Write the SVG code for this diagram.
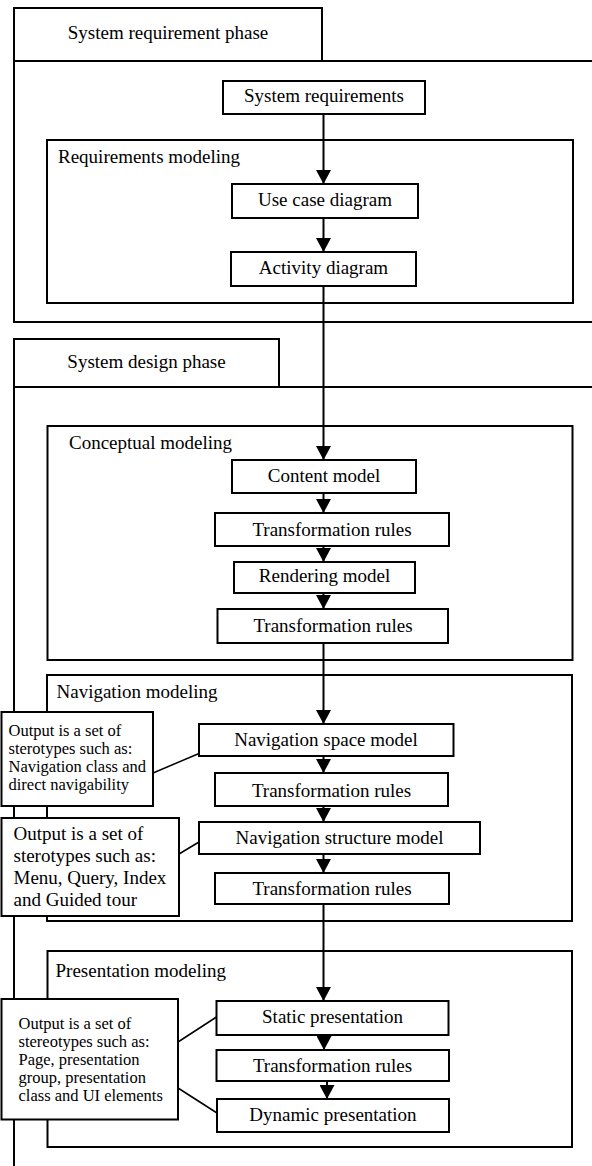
<svg xmlns="http://www.w3.org/2000/svg" width="592" height="1166" viewBox="0 0 592 1166">
  <defs>
    <style>
      .box { fill: #ffffff; stroke: #000000; stroke-width: 2; }
      .frame { fill: none; stroke: #000000; stroke-width: 2; }
      .flow { fill: none; stroke: #000000; stroke-width: 2; }
      .link { fill: none; stroke: #000000; stroke-width: 1.5; }
      text { font-family: "Liberation Serif", "Times New Roman", serif; fill: #000000; }
      .t19 { font-size: 19px; }
      .t16 { font-size: 16.5px; }
      .mid { text-anchor: middle; }
    </style>
    <marker id="arrow" markerUnits="userSpaceOnUse" markerWidth="14" markerHeight="15" viewBox="0 0 14 15" refX="14" refY="7.5" orient="auto">
      <path d="M0,0 L14,7.5 L0,15 z" fill="#000000"/>
    </marker>
  </defs>

  <rect width="592" height="1166" fill="#ffffff"/>

  <!-- Phase 1: system requirement phase -->
  <g id="phase-requirement">
    <rect class="box" x="14" y="8" width="308" height="53"/>
    <text class="t19 mid" x="168" y="39">System requirement phase</text>
    <rect class="frame" x="14" y="61" width="600" height="261"/>
  </g>

  <!-- Phase 2: system design phase (frame runs off the right and bottom) -->
  <g id="phase-design">
    <rect class="box" x="14" y="339" width="265" height="48"/>
    <text class="t19 mid" x="146.5" y="368">System design phase</text>
    <path class="frame" d="M600,387 H14 V1170"/>
  </g>

  <g id="requirements-modeling">
    <rect class="box" x="47" y="140" width="526" height="163"/>
    <text class="t19" x="58" y="163">Requirements modeling</text>
  </g>

  <g id="conceptual-modeling">
    <rect class="box" x="47.5" y="426" width="525" height="234"/>
    <text class="t19" x="69" y="449">Conceptual modeling</text>
  </g>

  <g id="navigation-modeling">
    <rect class="box" x="47" y="675" width="525" height="246"/>
    <text class="t19" x="56.5" y="698">Navigation modeling</text>
  </g>

  <g id="presentation-modeling">
    <rect class="box" x="47.5" y="951" width="524.5" height="196"/>
    <text class="t19" x="55.5" y="977">Presentation modeling</text>
  </g>

  <!-- Flow boxes -->
  <g id="system-requirements">
    <rect class="box" x="223" y="81" width="202" height="33"/>
    <text class="t19 mid" x="324" y="102">System requirements</text>
  </g>
  <g id="use-case-diagram">
    <rect class="box" x="232" y="184" width="186" height="34"/>
    <text class="t19 mid" x="325" y="206">Use case diagram</text>
  </g>
  <g id="activity-diagram">
    <rect class="box" x="231" y="252" width="185" height="34"/>
    <text class="t19 mid" x="323.5" y="273.5">Activity diagram</text>
  </g>

  <g id="content-model">
    <rect class="box" x="232" y="460" width="184" height="33"/>
    <text class="t19 mid" x="324" y="482">Content model</text>
  </g>
  <g id="transformation-rules-1">
    <rect class="box" x="215" y="513" width="234" height="33"/>
    <text class="t19 mid" x="332" y="536">Transformation rules</text>
  </g>
  <g id="rendering-model">
    <rect class="box" x="234" y="562" width="181" height="31"/>
    <text class="t19 mid" x="324.5" y="582">Rendering model</text>
  </g>
  <g id="transformation-rules-2">
    <rect class="box" x="217.5" y="609" width="230.5" height="34"/>
    <text class="t19 mid" x="333" y="632">Transformation rules</text>
  </g>

  <g id="navigation-space-model">
    <rect class="box" x="199" y="724" width="254.5" height="32"/>
    <text class="t19 mid" x="326" y="746">Navigation space model</text>
  </g>
  <g id="transformation-rules-3">
    <rect class="box" x="215" y="773" width="233" height="33"/>
    <text class="t19 mid" x="331.5" y="796.5">Transformation rules</text>
  </g>
  <g id="navigation-structure-model">
    <rect class="box" x="199" y="822" width="281" height="32"/>
    <text class="t19 mid" x="339.5" y="844">Navigation structure model</text>
  </g>
  <g id="transformation-rules-4">
    <rect class="box" x="215" y="873" width="234" height="31"/>
    <text class="t19 mid" x="332" y="895">Transformation rules</text>
  </g>

  <g id="static-presentation">
    <rect class="box" x="216.5" y="1001" width="232" height="34"/>
    <text class="t19 mid" x="332.5" y="1023">Static presentation</text>
  </g>
  <g id="transformation-rules-5">
    <rect class="box" x="216.5" y="1050" width="232.5" height="31"/>
    <text class="t19 mid" x="332.5" y="1072">Transformation rules</text>
  </g>
  <g id="dynamic-presentation">
    <rect class="box" x="217" y="1099" width="232" height="33"/>
    <text class="t19 mid" x="333" y="1121">Dynamic presentation</text>
  </g>

  <!-- Connectors: main flow and note links -->
  <g id="connectors">
    <path class="flow" d="M323.5,114 V184" marker-end="url(#arrow)"/>
    <path class="flow" d="M323.5,218 V252" marker-end="url(#arrow)"/>
    <path class="flow" d="M323.5,286 V460" marker-end="url(#arrow)"/>
    <path class="flow" d="M323.5,493 V513" marker-end="url(#arrow)"/>
    <path class="flow" d="M323.5,546 V562" marker-end="url(#arrow)"/>
    <path class="flow" d="M323.5,593 V609" marker-end="url(#arrow)"/>
    <path class="flow" d="M323.5,643 V724" marker-end="url(#arrow)"/>
    <path class="flow" d="M323.5,756 V773" marker-end="url(#arrow)"/>
    <path class="flow" d="M323.5,806 V822" marker-end="url(#arrow)"/>
    <path class="flow" d="M323.5,854 V873" marker-end="url(#arrow)"/>
    <path class="flow" d="M323.5,904 V1001" marker-end="url(#arrow)"/>
    <path class="flow" d="M324,1035 V1050" marker-end="url(#arrow)"/>
    <path class="flow" d="M327,1081 V1099" marker-end="url(#arrow)"/>

    <path class="link" d="M153,773 L199,753.5"/>
    <path class="link" d="M179,854 L199,842"/>
    <path class="link" d="M178,1042 L216.5,1017"/>
    <path class="link" d="M178,1088 L217,1113"/>
  </g>

  <!-- Notes on the left -->
  <g id="note-navigation-space">
    <rect class="box" x="1.5" y="712" width="151.5" height="94"/>
    <text class="t16" x="8.5">
      <tspan x="8.5" y="736">Output is a set of</tspan>
      <tspan x="8.5" y="754">sterotypes such as:</tspan>
      <tspan x="8.5" y="772">Navigation class and</tspan>
      <tspan x="8.5" y="789.5">direct navigability</tspan>
    </text>
  </g>
  <g id="note-navigation-structure">
    <rect class="box" x="1.5" y="818" width="177.5" height="98"/>
    <text class="t19" x="13.5">
      <tspan x="13.5" y="840">Output is a set of</tspan>
      <tspan x="13.5" y="862">sterotypes such as:</tspan>
      <tspan x="13.5" y="884">Menu, Query, Index</tspan>
      <tspan x="13.5" y="906">and Guided tour</tspan>
    </text>
  </g>
  <g id="note-presentation">
    <rect class="box" x="1.5" y="999" width="176.5" height="120.5"/>
    <text class="t16" x="18.5">
      <tspan x="18.5" y="1029">Output is a set of</tspan>
      <tspan x="18.5" y="1047">stereotypes such as:</tspan>
      <tspan x="18.5" y="1065">Page, presentation</tspan>
      <tspan x="18.5" y="1083">group, presentation</tspan>
      <tspan x="18.5" y="1101">class and UI elements</tspan>
    </text>
  </g>
</svg>
